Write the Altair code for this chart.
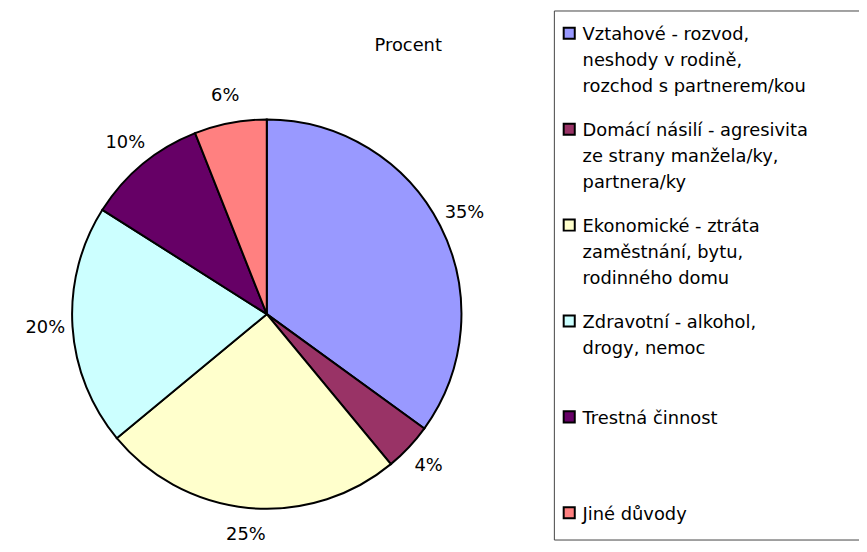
import altair as alt
import pandas as pd

# Data
categories = [
    "Vztahové - rozvod, neshody v rodině, rozchod s partnerem/kou",
    "Domácí násilí - agresivita ze strany manžela/ky, partnera/ky",
    "Ekonomické - ztráta zaměstnání, bytu, rodinného domu",
    "Zdravotní - alkohol, drogy, nemoc",
    "Trestná činnost",
    "Jiné důvody",
]
values = [35, 4, 25, 20, 10, 6]
legend_lines = [
    "Vztahové - rozvod,\nneshody v rodině,\nrozchod s partnerem/kou",
    "Domácí násilí - agresivita\nze strany manžela/ky,\npartnera/ky",
    "Ekonomické - ztráta\nzaměstnání, bytu,\nrodinného domu",
    "Zdravotní - alkohol,\ndrogy, nemoc",
    "Trestná činnost",
    "Jiné důvody",
]
colors = ["#9999FF", "#993366", "#FFFFCC", "#CCFFFF", "#660066", "#FF8080"]
title_text = "Procent"

df = pd.DataFrame({
    "cat": categories,
    "value": values,
    "idx": list(range(len(categories))),
    "pct": [f"{v}%" for v in values],
    "leg": legend_lines,
})

FONT = "DejaVu Sans"
FS = 18
CX, CY, R = 261.2, 306.5, 196.5

color = alt.Color("cat:N", scale=alt.Scale(domain=categories, range=colors), legend=None)
theta = alt.Theta("value:Q", stack=True)
order = alt.Order("idx:Q")

pie = alt.Chart(df).mark_arc(radius=R, stroke="#000000", strokeWidth=2).encode(
    theta=theta, color=color, order=order,
    x=alt.value(CX), y=alt.value(CY),
)

pct = alt.Chart(df).mark_text(radius=224, font=FONT, fontSize=FS, color="#000000").encode(
    theta=theta, order=order, text="pct:N",
    x=alt.value(CX), y=alt.value(CY),
)

title = alt.Chart(pd.DataFrame({"t": [title_text]})).mark_text(
    font=FONT, fontSize=FS, color="#000000", align="center", baseline="alphabetic"
).encode(text="t:N", x=alt.value(404), y=alt.value(41))

border = alt.Chart(pd.DataFrame({"b": [0]})).mark_rect(
    fill=None, stroke="#444444", strokeWidth=1
).encode(x=alt.value(551.5), x2=alt.value(900), y=alt.value(0.5), y2=alt.value(534.5))

ypos = alt.Y("idx:Q", scale=alt.Scale(domain=[0, 5], range=[23, 507]), axis=None)

symbols = alt.Chart(df).mark_square(size=125, stroke="#000000", strokeWidth=2, opacity=1).encode(
    x=alt.value(566.5), y=ypos, color=color,
)

labels = alt.Chart(df).mark_text(
    font=FONT, fontSize=FS, color="#000000", align="left", baseline="alphabetic",
    dy=7, lineBreak="\n", lineHeight=26,
).encode(x=alt.value(580), y=ypos, text="leg:N")

chart = alt.layer(pie, pct, title, border, symbols, labels).properties(
    width=859, height=536,
    autosize=alt.AutoSizeParams(type="none"),
    padding=0,
).configure_view(stroke=None)

chart.save("out.html", embed_options={"renderer": "svg", "actions": False})
